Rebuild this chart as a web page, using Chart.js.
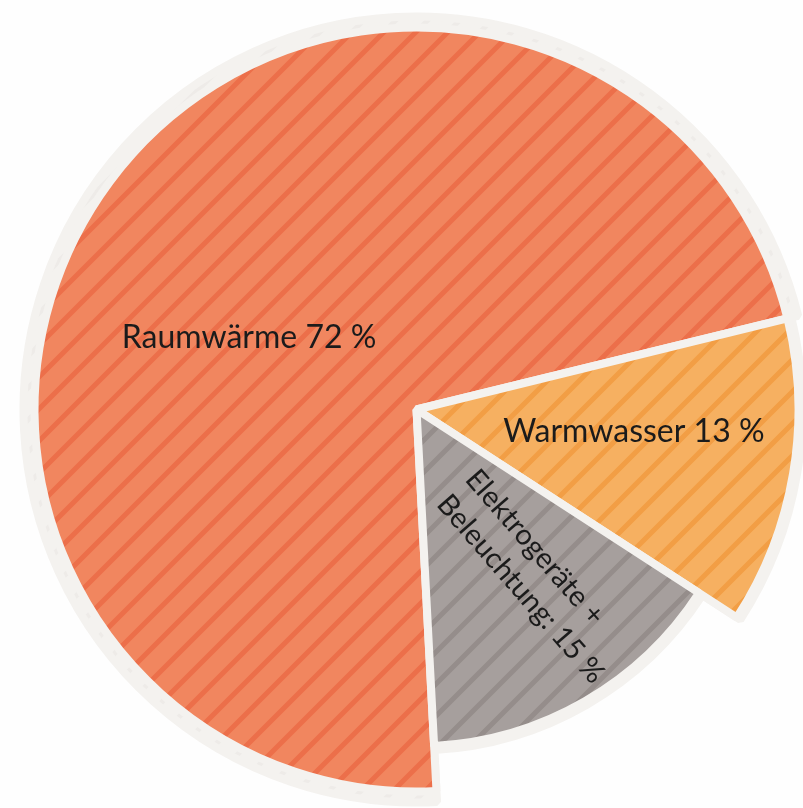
<!DOCTYPE html>
<html lang="de">
<head>
<meta charset="utf-8">
<title>Energieverbrauch im Haushalt</title>
<script src="https://cdn.jsdelivr.net/npm/chart.js@4.4.1/dist/chart.umd.min.js"></script>
<style>
    html, body { margin: 0; padding: 0; background: #fefefe; }
    #wrap { width: 803px; height: 808px; overflow: hidden; }
</style>
</head>
<body>
<div id="wrap"><canvas id="grafik" width="803" height="808"></canvas></div>
<script>
// ===== DATEN =====
const kategorien = ['Raumwärme', 'Warmwasser', 'Elektrogeräte + Beleuchtung'];
const anteile    = [72, 13, 15];
const zeilen     = [
    [`Raumwärme ${anteile[0]} %`],
    [`Warmwasser ${anteile[1]} %`],
    ['Elektrogeräte +', `Beleuchtung: ${anteile[2]} %`]
];

// ===== STIL =====
const FARBEN        = ['#f1865f', '#f6b061', '#a69f9d'];
const STREIFEN      = ['#ec6f4a', '#f29e45', '#958d8b'];
const RAND          = '#f4f2ef';
const RAND_STREIFEN = '#eeebe8';
const RAND_BREITE   = 8;
const RADIUS_FAKTOR = [1, 1, 0.882];   // grey slice sits smaller
const RING          = [11, 4, 4];      // extra light rim beyond each slice
// label placement: shift from slice middle (deg), distance as share of radius, text rotation (deg)
const LABEL_POS = [
    { dWinkel: -13.4, abstand: 0.477, drehung: 0,  groesse: 32 },
    { dWinkel: -3.7,  abstand: 0.572, drehung: 0,  groesse: 32 },
    { dWinkel: -5.4,  abstand: 0.608, drehung: 49, groesse: 29 }
];
const ZEILENHOEHE = 38;

// diagonal hatch as canvas pattern
function schraffur(grund, linie, groesse = 32, breite = 5) {
    const c = document.createElement('canvas');
    c.width = c.height = groesse;
    const g = c.getContext('2d');
    g.fillStyle = grund;
    g.fillRect(0, 0, groesse, groesse);
    g.strokeStyle = linie;
    g.lineWidth = breite;
    g.beginPath();
    [0, groesse, 2 * groesse].forEach(k => {
        g.moveTo(-groesse, k + groesse);
        g.lineTo(k + groesse, -groesse);
    });
    g.stroke();
    return g.createPattern(c, 'repeat');
}

const randMuster = schraffur(RAND, RAND_STREIFEN);

// ===== PLUGIN: Radien, Rand, Beschriftung =====
const tortenStil = {
    id: 'tortenStil',
    afterDatasetUpdate(chart, args) {
        if (args.index !== 0) return;
        args.meta.data.forEach((arc, i) => { arc.outerRadius *= RADIUS_FAKTOR[i]; });
    },
    beforeDatasetsDraw(chart) {
        const ctx = chart.ctx;
        chart.getDatasetMeta(0).data.forEach((arc, i) => {
            ctx.save();
            ctx.beginPath();
            ctx.moveTo(arc.x, arc.y);
            ctx.arc(arc.x, arc.y, arc.outerRadius + RING[i], arc.startAngle, arc.endAngle);
            ctx.closePath();
            ctx.fillStyle = randMuster;
            ctx.fill();
            ctx.lineWidth = RAND_BREITE;
            ctx.lineJoin = 'bevel';
            ctx.strokeStyle = RAND;
            ctx.stroke();
            ctx.restore();
        });
    },
    afterDatasetsDraw(chart) {
        const ctx = chart.ctx;
        chart.getDatasetMeta(0).data.forEach((arc, i) => {
            const pos = LABEL_POS[i];
            const winkel = (arc.startAngle + arc.endAngle) / 2 + pos.dWinkel * Math.PI / 180;
            const r = arc.outerRadius * pos.abstand;
            const x = arc.x + Math.cos(winkel) * r;
            const y = arc.y + Math.sin(winkel) * r;
            const z = zeilen[i];
            ctx.save();
            ctx.translate(x, y);
            ctx.rotate(pos.drehung * Math.PI / 180);
            ctx.font = `${pos.groesse}px Lato`;
            ctx.fillStyle = '#1b1b1b';
            ctx.textBaseline = 'middle';
            ctx.textAlign = z.length > 1 ? 'left' : 'center';
            const breite = Math.max(...z.map(t => ctx.measureText(t).width));
            z.forEach((t, k) => {
                const dy = (k - (z.length - 1) / 2) * ZEILENHOEHE;
                ctx.fillText(t, z.length > 1 ? -breite / 2 : 0, dy);
            });
            ctx.restore();
        });
    }
};

// ===== DIAGRAMM =====
new Chart(document.getElementById('grafik'), {
    type: 'pie',
    data: {
        labels: kategorien,
        datasets: [{
            data:            anteile,
            backgroundColor: FARBEN.map((f, i) => schraffur(f, STREIFEN[i])),
            borderColor:     RAND,
            borderWidth:     RAND_BREITE,
            borderJoinStyle: 'bevel'
        }]
    },
    options: {
        responsive: false,
        animation: false,
        events: [],
        radius: 382,
        rotation: 177,
        layout: { padding: { left: 30, top: 11, right: 0, bottom: 0 } },
        plugins: {
            legend:  { display: false },
            tooltip: { enabled: false }
        }
    },
    plugins: [tortenStil]
});
</script>
</body>
</html>
